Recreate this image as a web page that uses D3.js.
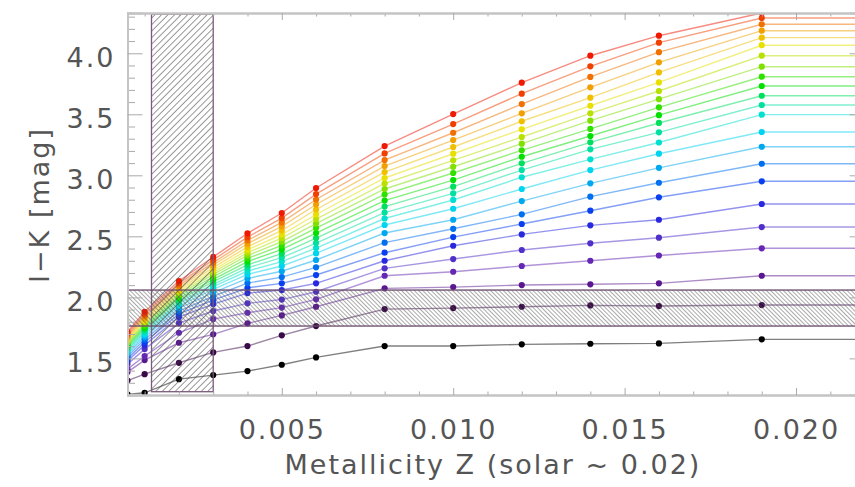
<!DOCTYPE html>
<html>
<head>
<meta charset="utf-8">
<script src="https://cdn.jsdelivr.net/npm/d3@7"></script>
<style>
  html, body { margin: 0; padding: 0; background: #ffffff; }
  svg { display: block; }
  text { font-family: "DejaVu Sans", sans-serif; fill: #555; }
</style>
</head>
<body>
<svg id="chart" width="855" height="487"></svg>
<script>
// ---------------- data ----------------
const metallicity = [0.0005, 0.001, 0.002, 0.003, 0.004, 0.005, 0.006, 0.008, 0.010, 0.012, 0.014, 0.016, 0.019];

const ik00 = [1.205, 1.218, 1.330, 1.363, 1.396, 1.448, 1.508, 1.601, 1.601, 1.615, 1.620, 1.623, 1.656];
const ik01 = [1.318, 1.371, 1.464, 1.549, 1.601, 1.689, 1.765, 1.904, 1.912, 1.923, 1.934, 1.929, 1.937];
const ik02 = [1.388, 1.486, 1.628, 1.697, 1.787, 1.852, 1.923, 2.074, 2.084, 2.101, 2.107, 2.115, 2.177];
const ik03 = [1.412, 1.519, 1.710, 1.822, 1.874, 1.916, 1.984, 2.177, 2.210, 2.257, 2.300, 2.343, 2.402];
const ik04 = [1.453, 1.576, 1.789, 1.888, 1.951, 1.982, 2.046, 2.238, 2.314, 2.388, 2.443, 2.489, 2.576];
const ik05 = [1.478, 1.609, 1.839, 1.945, 2.035, 2.060, 2.115, 2.300, 2.423, 2.516, 2.590, 2.636, 2.765];
const ik06 = [1.498, 1.632, 1.864, 1.978, 2.078, 2.115, 2.183, 2.366, 2.494, 2.601, 2.710, 2.820, 2.951];
const ik07 = [1.518, 1.654, 1.888, 2.009, 2.117, 2.166, 2.246, 2.448, 2.562, 2.680, 2.825, 2.939, 3.095];
const ik08 = [1.537, 1.675, 1.911, 2.039, 2.155, 2.214, 2.306, 2.527, 2.636, 2.789, 2.934, 3.061, 3.234];
const ik09 = [1.552, 1.693, 1.930, 2.066, 2.189, 2.257, 2.360, 2.593, 2.726, 2.888, 3.043, 3.177, 3.355];
const ik10 = [1.566, 1.709, 1.948, 2.088, 2.216, 2.293, 2.404, 2.646, 2.798, 2.984, 3.131, 3.269, 3.497];
const ik11 = [1.579, 1.723, 1.962, 2.107, 2.242, 2.326, 2.445, 2.695, 2.852, 3.043, 3.213, 3.352, 3.576];
const ik12 = [1.592, 1.738, 1.978, 2.128, 2.267, 2.359, 2.486, 2.744, 2.907, 3.098, 3.270, 3.429, 3.652];
const ik13 = [1.604, 1.752, 1.993, 2.148, 2.293, 2.393, 2.527, 2.793, 2.961, 3.152, 3.322, 3.493, 3.732];
const ik14 = [1.617, 1.766, 2.009, 2.169, 2.319, 2.425, 2.568, 2.843, 3.019, 3.205, 3.380, 3.557, 3.808];
const ik15 = [1.630, 1.780, 2.024, 2.188, 2.343, 2.456, 2.605, 2.888, 3.070, 3.259, 3.448, 3.624, 3.890];
const ik16 = [1.640, 1.793, 2.038, 2.206, 2.366, 2.485, 2.642, 2.933, 3.123, 3.314, 3.508, 3.691, 3.980];
const ik17 = [1.652, 1.806, 2.052, 2.224, 2.389, 2.515, 2.679, 2.978, 3.177, 3.377, 3.570, 3.761, 4.066];
const ik18 = [1.665, 1.820, 2.067, 2.244, 2.414, 2.548, 2.720, 3.027, 3.232, 3.443, 3.636, 3.843, 4.128];
const ik19 = [1.677, 1.834, 2.083, 2.265, 2.440, 2.581, 2.761, 3.076, 3.289, 3.508, 3.721, 3.926, 4.185];
const ik20 = [1.689, 1.848, 2.098, 2.284, 2.466, 2.614, 2.802, 3.125, 3.349, 3.584, 3.806, 4.009, 4.238];
const ik21 = [1.703, 1.864, 2.115, 2.307, 2.493, 2.650, 2.846, 3.179, 3.420, 3.669, 3.893, 4.087, 4.289];
const ik22 = [1.718, 1.882, 2.134, 2.331, 2.525, 2.691, 2.896, 3.240, 3.502, 3.759, 3.980, 4.144, 4.330];

const allSeries = [ik00, ik01, ik02, ik03, ik04, ik05, ik06, ik07, ik08, ik09, ik10, ik11,
                   ik12, ik13, ik14, ik15, ik16, ik17, ik18, ik19, ik20, ik21, ik22];

// shaded constraint regions
const rectZ = [0.0012, 0.003];
const rectIK = [1.227, 4.32];
const bandIK = [1.765, 2.06];

// axes
const xDomain = [0.0005, 0.022];
const yDomain = [1.2, 4.33];
const xMajorTicks = [0.005, 0.010, 0.015, 0.020];
const xTickLabels = ["0.005", "0.010", "0.015", "0.020"];
const yMajorTicks = [1.5, 2.0, 2.5, 3.0, 3.5, 4.0];
const yTickLabels = ["1.5", "2.0", "2.5", "3.0", "3.5", "4.0"];
const xTitle = "Metallicity Z (solar ~ 0.02)";
const yTitle = "I\u2212K [mag]";

// ---------------- styles ----------------
const palette = ["#000000", "#3a0a48", "#5a1890", "#6428b4", "#5030c8", "#2828e0", "#0840f0",
  "#0070f0", "#00a8f0", "#00d4f0", "#00e0d0", "#00e0a0", "#00e060", "#00e000", "#30e000",
  "#80e000", "#b8e000", "#e8e000", "#f0c000", "#f0a000", "#f07000", "#f04000", "#f01800"];

const L = 127.5, R = 864.6, T = 13, B = 395;

const svg = d3.select("#chart");
const x = d3.scaleLinear().domain(xDomain).range([L, R]);
const y = d3.scaleLinear().domain(yDomain).range([B, T]);

const defs = svg.append("defs");
defs.append("clipPath").attr("id", "plotclip")
  .append("rect").attr("x", L).attr("y", T).attr("width", R - L).attr("height", B - T);

function hatch(id, spacing, angle, color, width) {
  const p = defs.append("pattern").attr("id", id)
    .attr("patternUnits", "userSpaceOnUse")
    .attr("width", spacing).attr("height", spacing)
    .attr("patternTransform", `rotate(${angle})`);
  p.append("line").attr("x1", 0).attr("y1", -1).attr("x2", 0).attr("y2", spacing + 1)
    .attr("stroke", color).attr("stroke-width", width);
}
hatch("hatchRect", 4.6, 45, "#444", 1.1);
hatch("hatchBand", 3.0, -45, "#555", 1.0);

const plot = svg.append("g").attr("clip-path", "url(#plotclip)");

// lines (extended flat to the right edge)
const line = d3.line().x(d => x(d[0])).y(d => y(d[1]));
allSeries.forEach((s, i) => {
  const pts = metallicity.map((z, j) => [z, s[j]]);
  pts.push([xDomain[1], s[s.length - 1]]);
  plot.append("path").datum(pts)
    .attr("d", line)
    .attr("fill", "none")
    .attr("stroke", palette[i])
    .attr("stroke-opacity", 0.5)
    .attr("stroke-width", 1.4);
});

// points
allSeries.forEach((s, i) => {
  plot.append("g").selectAll("circle")
    .data(metallicity.map((z, j) => [z, s[j]]))
    .join("circle")
    .attr("cx", d => x(d[0]))
    .attr("cy", d => y(d[1]))
    .attr("r", 3.1)
    .attr("fill", palette[i]);
});

// hatched regions
plot.append("rect")
  .attr("x", x(rectZ[0])).attr("y", y(rectIK[1]))
  .attr("width", x(rectZ[1]) - x(rectZ[0]))
  .attr("height", y(rectIK[0]) - y(rectIK[1]))
  .attr("fill", "url(#hatchRect)")
  .attr("stroke", "#7a5a7a").attr("stroke-width", 1.3);

plot.append("rect")
  .attr("x", x(xDomain[0])).attr("y", y(bandIK[1]))
  .attr("width", x(xDomain[1]) - x(xDomain[0]))
  .attr("height", y(bandIK[0]) - y(bandIK[1]))
  .attr("fill", "url(#hatchBand)")
  .attr("stroke", "#6a4a6a").attr("stroke-width", 1.3);

// ---------------- axes ----------------
const axisColor = "#c4c4c4";
const xMinor = d3.range(0.001, 0.0221, 0.001).filter(v => !xMajorTicks.some(m => Math.abs(m - v) < 1e-6));
const yMinor = d3.range(1.2, 4.331, 0.1).filter(v => !yMajorTicks.some(m => Math.abs(m - v) < 1e-6));

function styleAxis(g) {
  g.select(".domain").attr("stroke", axisColor).attr("stroke-width", 2);
  g.selectAll(".tick line").attr("stroke", "#aaa").attr("stroke-width", 1);
}

// bottom
svg.append("g").attr("transform", `translate(0,${B})`)
  .call(d3.axisBottom(x).tickValues(xMinor).tickSize(-3.5).tickFormat(""))
  .call(styleAxis);
const xb = svg.append("g").attr("transform", `translate(0,${B})`)
  .call(d3.axisBottom(x).tickValues(xMajorTicks).tickSize(-7).tickPadding(25)
    .tickFormat((d, i) => xTickLabels[i]))
  .call(styleAxis);
xb.selectAll("text").attr("font-size", 27).attr("fill", "#555")
  .attr("letter-spacing", "2px").attr("font-family", "DejaVu Sans");

// top
svg.append("g").attr("transform", `translate(0,${T})`)
  .call(d3.axisTop(x).tickValues(xMinor).tickSize(-3.5).tickFormat(""))
  .call(styleAxis);
svg.append("g").attr("transform", `translate(0,${T})`)
  .call(d3.axisTop(x).tickValues(xMajorTicks).tickSize(-7).tickFormat(""))
  .call(styleAxis);

// left
svg.append("g").attr("transform", `translate(${L},0)`)
  .call(d3.axisLeft(y).tickValues(yMinor).tickSize(-7.5).tickFormat(""))
  .call(styleAxis);
const yl = svg.append("g").attr("transform", `translate(${L},0)`)
  .call(d3.axisLeft(y).tickValues(yMajorTicks).tickSize(-15).tickPadding(12)
    .tickFormat((d, i) => yTickLabels[i]))
  .call(styleAxis);
yl.selectAll("text").attr("font-size", 27).attr("fill", "#555")
  .attr("letter-spacing", "2px").attr("dy", "0.48em").attr("font-family", "DejaVu Sans");

// right
svg.append("g").attr("transform", `translate(${R},0)`)
  .call(d3.axisRight(y).tickValues(yMinor).tickSize(-7.5).tickFormat(""))
  .call(styleAxis);
svg.append("g").attr("transform", `translate(${R},0)`)
  .call(d3.axisRight(y).tickValues(yMajorTicks).tickSize(-15).tickFormat(""))
  .call(styleAxis);

// titles
svg.append("text")
  .attr("x", 493).attr("y", 474)
  .attr("text-anchor", "middle")
  .attr("font-size", 27).attr("letter-spacing", "2px")
  .text(xTitle);

svg.append("text")
  .attr("transform", "translate(49,205) rotate(-90)")
  .attr("text-anchor", "middle")
  .attr("font-size", 27).attr("letter-spacing", "2px")
  .text(yTitle);
</script>
</body>
</html>
